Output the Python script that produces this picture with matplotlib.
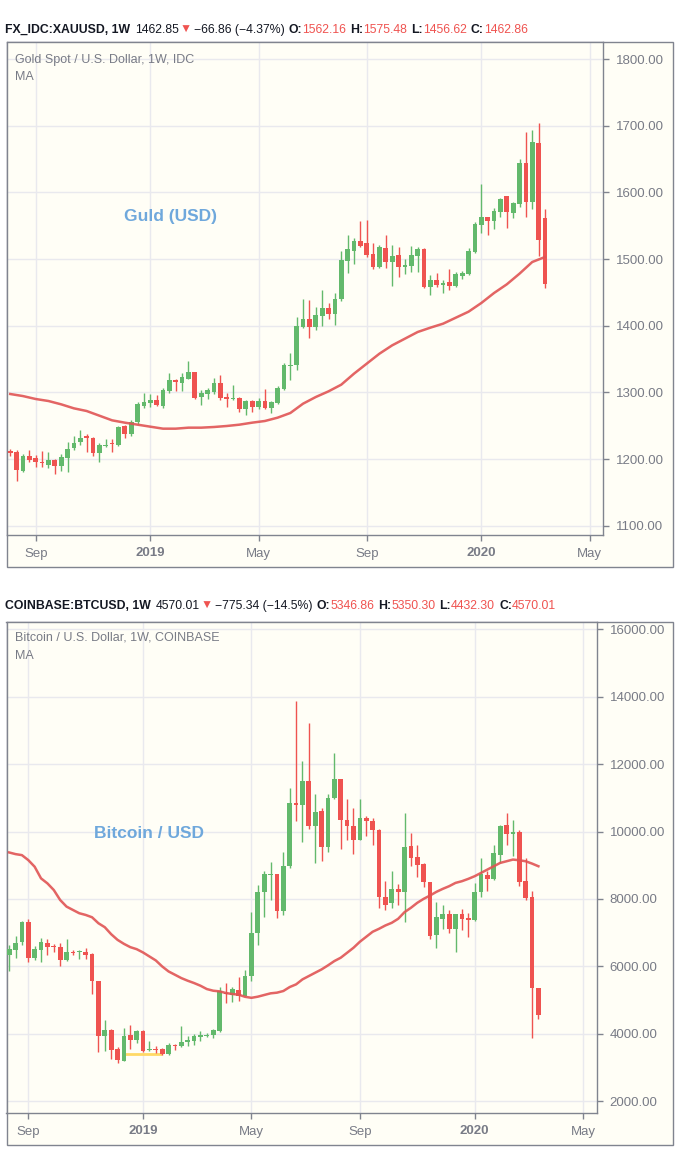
import matplotlib
matplotlib.use('Agg')
import matplotlib.pyplot as plt
import matplotlib.dates as mdates
from matplotlib.patches import Rectangle
from matplotlib.transforms import IdentityTransform
import pandas as pd

plt.rcParams['font.family'] = ['Liberation Sans', 'DejaVu Sans']

W, H = 678, 1171
BG = '#fffef6'
UP = '#63b96c'
DOWN = '#ef5350'
MA_COLOR = '#e05454'
GRID = '#e9e9ee'
AXIS = '#80848f'
TEXT = '#787b86'
LABEL_BLUE = '#6fa8dc'

# ---- gold weekly candles, first bar week of 2018-08-06 ----
gold_start = '2018-08-06'
gold_o = [1212.6, 1211, 1182, 1205, 1201, 1196, 1191, 1199, 1190, 1201,
          1216, 1225, 1234, 1232, 1209, 1219, 1223, 1221, 1249, 1237,
          1255, 1279, 1284, 1288, 1280, 1302, 1319, 1313.6, 1320.7, 1330,
          1293, 1297.5, 1300, 1314.6, 1292.4, 1289.4, 1292, 1275, 1287, 1278,
          1287, 1276, 1284, 1304.5, 1339.5, 1340.5, 1398, 1409.5, 1398, 1414.5,
          1426, 1417.5, 1439.5, 1497, 1512, 1526.5, 1523.5, 1507, 1488, 1516,
          1495.5, 1505.5, 1488, 1489.5, 1504.5, 1514.5, 1458, 1468, 1461.5, 1465,
          1459, 1474.5, 1477, 1510.5, 1550.5, 1562.5, 1556.5, 1570.5, 1594, 1569,
          1582, 1644, 1585.5, 1674, 1562.16]
gold_h = [1215, 1214, 1208, 1214, 1206, 1212.6, 1211, 1200, 1207.5, 1225,
          1234, 1244, 1238, 1233, 1224, 1230, 1230, 1249, 1251.5, 1258,
          1286, 1298.5, 1297.5, 1296, 1306, 1329, 1320, 1329, 1347.5, 1331,
          1303.5, 1307, 1322, 1326, 1298.5, 1311, 1292.4, 1288.4, 1288, 1292,
          1304.5, 1287.4, 1309.6, 1344, 1359, 1413, 1439.5, 1438, 1428, 1453,
          1434, 1449.5, 1511.5, 1535.5, 1531.5, 1556.5, 1558, 1524.5, 1520.5, 1535.5,
          1520.5, 1517.5, 1500, 1519, 1517.5, 1516.5, 1476, 1479, 1468, 1484.5,
          1481, 1481.5, 1516.5, 1555, 1612, 1563, 1576.5, 1591, 1594.5, 1585.5,
          1649.5, 1690.5, 1693, 1703.5, 1575.48]
gold_l = [1205, 1167, 1181, 1195, 1188, 1188, 1187, 1178, 1182, 1181,
          1214, 1221, 1211, 1205, 1195, 1218, 1210, 1220, 1231, 1234,
          1253, 1276, 1278, 1280, 1276, 1298.5, 1302.5, 1302, 1319.7, 1290,
          1281, 1290, 1297.5, 1288, 1278, 1288, 1270.7, 1265.7, 1270, 1275,
          1275, 1269, 1283, 1303.5, 1319, 1333, 1397, 1381.5, 1393, 1399.5,
          1409.5, 1400.5, 1437.5, 1479, 1492.5, 1518, 1503, 1484.5, 1486.5, 1486.5,
          1459.5, 1473, 1477, 1480.5, 1480.5, 1456.5, 1445.5, 1458, 1449, 1453,
          1458, 1469.5, 1476, 1509, 1539.5, 1535.5, 1544.5, 1563, 1546, 1562,
          1578, 1563, 1574.5, 1504.5, 1456.62]
gold_c = [1208.6, 1184, 1205, 1199, 1195, 1193.5, 1199, 1189, 1203.5, 1215,
          1224, 1232, 1232, 1209, 1221, 1221, 1222, 1247.5, 1237, 1255,
          1282, 1285, 1288, 1281, 1303.5, 1319, 1315, 1323.7, 1329.8, 1292,
          1299.5, 1303.5, 1314.6, 1292, 1290.4, 1291, 1275, 1287, 1278, 1287,
          1276, 1285, 1306, 1341, 1341, 1399, 1409.5, 1398, 1415.5, 1426,
          1417.5, 1440.5, 1498, 1514.5, 1526.5, 1519.5, 1505.5, 1488, 1517.5, 1495.5,
          1504.5, 1488, 1490.5, 1505.5, 1514.5, 1458, 1468, 1460.5, 1464, 1459,
          1477, 1479, 1511.5, 1553, 1562.5, 1556.5, 1571.5, 1589.5, 1570, 1583.5,
          1644, 1585.5, 1675, 1528, 1462.86]
# moving average read at every second gold bar
gold_ma = [1297.5, 1294.4, 1290, 1287, 1282, 1276, 1272, 1265, 1258, 1254.5,
           1251.5, 1248.5, 1245.5, 1245.5, 1247, 1247, 1248, 1249.5, 1251.5, 1254.5,
           1257, 1262, 1269, 1283, 1293, 1301.5, 1311.5, 1328, 1343, 1358,
           1370.5, 1380.5, 1390.5, 1397, 1403, 1412, 1421, 1434, 1449, 1462,
           1478, 1495.5, 1503]

# ---- bitcoin weekly candles, first bar week of 2018-08-13 ----
btc_start = '2018-08-13'
btc_o = [6325, 6473, 6710, 7320, 6237, 6493, 6690, 6611, 6572, 6178,
         6434, 6414, 6424, 6365, 5577, 3931, 4128, 3567, 3192, 3980,
         3833, 4079, 3517, 3537, 3567, 3419, 3685, 3636, 3754, 3783,
         3911, 3951, 3960, 4099, 5203, 5163, 5311, 5133, 5716, 6978,
         8211, 8724, 8744, 7639, 8970, 10844, 10775, 11505, 10174, 10617,
         9532, 10992, 11564, 10351, 10174, 9759, 10410, 10322, 10055, 8063,
         7866, 8300, 8221, 9582, 9237, 9049, 8507, 6919, 7412, 7540,
         7097, 7540, 7422, 7373, 8201, 8724, 8606, 9316, 10193, 9917,
         9986, 8546, 8063, 5346.86]
btc_h = [6640, 6907, 7360, 7399, 6611, 6838, 6808, 6670, 6690, 6808,
         6493, 6493, 6542, 6394, 5577, 4424, 4158, 3616, 4178, 4276,
         4128, 4128, 3784, 3655, 3586, 3734, 3714, 4227, 3931, 4000,
         4079, 4030, 4148, 5380, 5508, 5380, 5675, 5882, 7609, 8428,
         8823, 9099, 8744, 9395, 11288, 13872, 12097, 13211, 11110, 10696,
         11110, 12323, 11564, 10972, 10696, 10972, 10450, 10400, 10085, 8546,
         8842, 8458, 10548, 9957, 9611, 9069, 8507, 7905, 7807, 7688,
         7540, 7708, 7570, 8477, 9217, 8823, 9611, 10203, 10548, 10351,
         10055, 9217, 8231, 5350.30]
btc_l = [5872, 6237, 6641, 6118, 6178, 6118, 6325, 6414, 6020, 6148,
         6335, 6217, 6217, 5192, 3458, 3488, 3242, 3143, 3192, 3557,
         3734, 3468, 3488, 3439, 3389, 3370, 3537, 3616, 3636, 3685,
         3783, 3911, 3882, 4049, 4916, 4946, 4966, 5114, 5568, 6623,
         7461, 7964, 7422, 7520, 8921, 10302, 9680, 10075, 9069, 9118,
         9385, 10972, 9483, 9759, 9335, 9759, 9858, 9592, 7718, 7688,
         7738, 7836, 7313, 8970, 8645, 8359, 6801, 6554, 7116, 6998,
         6426, 7077, 6870, 7343, 8063, 8231, 8576, 9069, 9611, 9286,
         8398, 7984, 3872, 4432.30]
btc_c = [6512, 6690, 7320, 6237, 6512, 6719, 6591, 6562, 6178, 6424,
         6394, 6453, 6345, 5557, 3931, 4128, 3537, 3222, 3951, 3833,
         4079, 3508, 3567, 3517, 3419, 3685, 3636, 3764, 3833, 3931,
         3980, 3980, 4108, 5261, 5183, 5340, 5133, 5724, 6998, 8211,
         8744, 8754, 7639, 8990, 10844, 10775, 11505, 10174, 10588, 9532,
         10992, 11564, 10331, 10154, 9759, 10410, 10302, 10036, 8053, 7836,
         8300, 8221, 9552, 9207, 9020, 8497, 6899, 7452, 7540, 7097,
         7540, 7392, 7373, 8221, 8734, 8606, 9365, 10174, 9937, 9986,
         8517, 8033, 5351, 4570.01]
btc_ma = [9379, 9330, 9300, 9153, 8956, 8611, 8463, 8266, 7970, 7774,
          7675, 7577, 7527, 7458, 7281, 7163, 6956, 6788, 6670, 6572,
          6512, 6414, 6296, 6178, 6000, 5852, 5754, 5655, 5577, 5508,
          5429, 5330, 5281, 5261, 5212, 5183, 5163, 5100, 5070, 5104,
          5154, 5203, 5223, 5272, 5390, 5469, 5617, 5716, 5815, 5913,
          6032, 6160, 6259, 6406, 6554, 6732, 6880, 7028, 7116, 7215,
          7294, 7412, 7609, 7738, 7886, 8004, 8103, 8211, 8300, 8379,
          8477, 8527, 8596, 8675, 8773, 8872, 8970, 9069, 9118, 9168,
          9148, 9118, 9049, 8970]
# yellow horizontal drawing on the bitcoin chart (bar index range, level)
btc_drawing = (18, 24, 3400)

tick_dates = ['2018-09-03', '2019-01-07', '2019-05-06', '2019-09-02', '2020-01-06', '2020-05-04']
tick_labels = ['Sep', '2019', 'May', 'Sep', '2020', 'May']
gold_yticks = [1100, 1200, 1300, 1400, 1500, 1600, 1700, 1800]
btc_yticks = [2000, 4000, 6000, 8000, 10000, 12000, 14000, 16000]

DARK = '#131722'
gold_header = [('FX_IDC:XAUUSD, 1W', DARK, 'bold', 5), ('1462.85', DARK, 'normal', 1),
               ('▼', DOWN, 'normal', 2), ('−66.86 (−4.37%)', DARK, 'normal', 4),
               ('O:', DARK, 'bold', 0), ('1562.16', DOWN, 'normal', 4),
               ('H:', DARK, 'bold', 0), ('1575.48', DOWN, 'normal', 4),
               ('L:', DARK, 'bold', 0), ('1456.62', DOWN, 'normal', 4),
               ('C:', DARK, 'bold', 0), ('1462.86', DOWN, 'normal', 0)]
btc_header = [('COINBASE:BTCUSD, 1W', DARK, 'bold', 5), ('4570.01', DARK, 'normal', 1),
              ('▼', DOWN, 'normal', 2), ('−775.34 (−14.5%)', DARK, 'normal', 4),
              ('O:', DARK, 'bold', 0), ('5346.86', DOWN, 'normal', 4),
              ('H:', DARK, 'bold', 0), ('5350.30', DOWN, 'normal', 4),
              ('L:', DARK, 'bold', 0), ('4432.30', DOWN, 'normal', 4),
              ('C:', DARK, 'bold', 0), ('4570.01', DOWN, 'normal', 0)]

fig = plt.figure(figsize=(W / 100, H / 100), dpi=100)
fig.patch.set_facecolor('white')
renderer = fig.canvas.get_renderer()
ident = IdentityTransform()


def rect(x0, y0, x1, y1):
    return [x0 / W, 1 - y1 / H, (x1 - x0) / W, (y1 - y0) / H]


def header(x, y, parts):
    for s, color, weight, gap in parts:
        t = fig.text(x, H - y, s, color=color, fontweight=weight, fontsize=8.8,
                     va='center', ha='left', transform=ident)
        x += t.get_window_extent(renderer).width + gap


def draw_candles(ax, dates, o, h, l, c, min_body):
    x = mdates.date2num(dates)
    cols = [UP if ci >= oi else DOWN for oi, ci in zip(o, c)]
    ax.vlines(x, l, h, colors=cols, lw=1, zorder=3)
    bottoms = [min(oi, ci) for oi, ci in zip(o, c)]
    heights = [max(abs(ci - oi), min_body) for oi, ci in zip(o, c)]
    ax.bar(x, heights, 5.2, bottom=bottoms, color=cols, lw=0, zorder=4)


def chart(box, axbox, xlim, ylim, yticks):
    fig.add_artist(Rectangle((box[0] / W, 1 - box[3] / H), (box[2] - box[0]) / W,
                             (box[3] - box[1]) / H, transform=fig.transFigure,
                             facecolor=BG, edgecolor=AXIS, lw=1, zorder=-5))
    ax = fig.add_axes(rect(*axbox))
    ax.set_facecolor(BG)
    ax.set_xlim(xlim)
    ax.set_ylim(ylim)
    ax.yaxis.tick_right()
    ax.set_yticks(yticks)
    ax.set_yticklabels([f'{v:.2f}' for v in yticks])
    ax.set_xticks(mdates.date2num(pd.to_datetime(tick_dates)))
    ax.set_xticklabels(tick_labels)
    for lab in ax.get_xticklabels():
        if lab.get_text().isdigit():
            lab.set_fontweight('bold')
    ax.tick_params(axis='both', colors=AXIS, labelcolor=TEXT, length=4, width=1,
                   labelsize=9.5, direction='out', pad=5)
    ax.grid(True, color=GRID, lw=1)
    ax.set_axisbelow(True)
    for s in ax.spines.values():
        s.set_color(AXIS)
        s.set_linewidth(1)
    return ax


sep = pd.Timestamp('2018-09-03')

# ---- gold ----
gold_dates = pd.date_range(gold_start, periods=len(gold_c), freq='7D')
ax1 = chart((6.5, 42, 673, 567), (6.5, 42, 603, 535),
            (mdates.date2num(sep - pd.Timedelta(days=32.1)), mdates.date2num(sep + pd.Timedelta(days=623.8))),
            (1086, 1825.5), gold_yticks)
draw_candles(ax1, gold_dates, gold_o, gold_h, gold_l, gold_c, 1.5)
ax1.plot(mdates.date2num(gold_dates[::2]), gold_ma, color=MA_COLOR, lw=1.8, alpha=0.9, zorder=5)

# ---- bitcoin ----
btc_dates = pd.date_range(btc_start, periods=len(btc_c), freq='7D')
ax2 = chart((6.5, 621.5, 673, 1145), (6.5, 621.5, 597, 1113),
            (mdates.date2num(sep - pd.Timedelta(days=23.9)), mdates.date2num(sep + pd.Timedelta(days=624.3))),
            (1656, 16225), btc_yticks)
i0, i1, lvl = btc_drawing
ax2.hlines(lvl, mdates.date2num(btc_dates[i0]), mdates.date2num(btc_dates[i1]),
           color='#ffd966', lw=2, zorder=2)
draw_candles(ax2, btc_dates, btc_o, btc_h, btc_l, btc_c, 25)
ax2.plot(mdates.date2num(btc_dates), btc_ma, color=MA_COLOR, lw=1.8, alpha=0.9, zorder=5)

# ---- texts ----
header(5, 30, gold_header)
header(5, 606, btc_header)
for y, s in [(60, 'Gold Spot / U.S. Dollar, 1W, IDC'), (77, 'MA'),
             (638, 'Bitcoin / U.S. Dollar, 1W, COINBASE'), (656, 'MA')]:
    fig.text(15, H - y, s, color=TEXT, fontsize=9, va='center', ha='left', transform=ident)
fig.text(171, H - 216, 'Guld (USD)', color=LABEL_BLUE, fontsize=12.5, fontweight='bold',
         va='center', ha='center', transform=ident)
fig.text(149, H - 833, 'Bitcoin / USD', color=LABEL_BLUE, fontsize=12.5, fontweight='bold',
         va='center', ha='center', transform=ident)

fig.savefig('out.png', dpi=100)
